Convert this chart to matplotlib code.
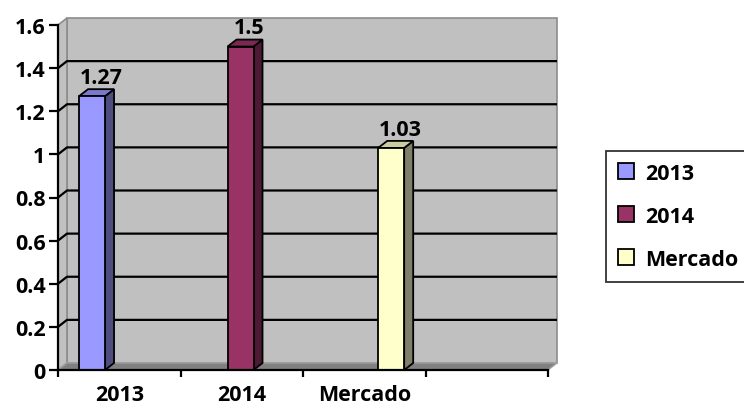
import matplotlib
matplotlib.use("Agg")
import matplotlib.pyplot as plt
from matplotlib.patches import Rectangle, Polygon, Patch

categories = ["2013", "2014", "Mercado"]
values = [1.27, 1.5, 1.03]
yticks = [0, 0.2, 0.4, 0.6, 0.8, 1, 1.2, 1.4, 1.6]
ytick_labels = ["0", "0.2", "0.4", "0.6", "0.8", "1", "1.2", "1.4", "1.6"]

front_cols = ["#9999FF", "#993366", "#FFFFCC"]
side_cols = ["#4D4D80", "#4D1A33", "#80806A"]
top_cols = ["#7A7ACC", "#7A2952", "#CCCCA3"]

# style / layout
bar_pos = [0.278, 1.49, 2.72]
label_pos = [0.5, 1.5, 2.5]
bar_w = 0.212
DX, DY = 9 / 122.5, 7 / 215.6
XMAX, YMAX = 4, 1.6

plt.rcParams['font.family'] = ['Open Sans', 'DejaVu Sans']
plt.rcParams['font.weight'] = 'bold'
FS = 15.5

fig = plt.figure(figsize=(7.44, 4.10), dpi=100)
ax = fig.add_axes([58 / 744, 39 / 410, 490 / 744, 345 / 410])
ax.set_xlim(0, XMAX)
ax.set_ylim(0, YMAX)
ax.patch.set_visible(False)

# back wall
ax.add_patch(Rectangle((DX, DY), XMAX, YMAX, facecolor="#C0C0C0",
                       edgecolor="#8C8C8C", lw=1.2, zorder=0, clip_on=False))
# left wall
ax.add_patch(Polygon([(0, 0), (DX, DY), (DX, YMAX + DY), (0, YMAX)], closed=True,
                     facecolor="#C0C0C0", edgecolor="#8C8C8C", lw=1.2, zorder=0.5,
                     clip_on=False))
# floor
ax.add_patch(Polygon([(0, 0), (XMAX, 0), (XMAX + DX, DY), (DX, DY)], closed=True,
                     facecolor="#808080", edgecolor="#A0A0A0", lw=1.0, zorder=0.5,
                     clip_on=False))

# gridlines
for y in yticks[1:-1]:
    ax.plot([0, DX, XMAX + DX], [y, y + DY, y + DY], color="black", lw=1.6,
            zorder=1, clip_on=False, solid_capstyle="butt")

# bars
for x, v, fc, sc, tc in zip(bar_pos, values, front_cols, side_cols, top_cols):
    x0 = x - bar_w / 2
    x1 = x + bar_w / 2
    ax.add_patch(Polygon([(x1, 0), (x1 + DX, DY), (x1 + DX, v + DY), (x1, v)],
                         closed=True, facecolor=sc, edgecolor="black", lw=1.3,
                         zorder=3, clip_on=False))
    ax.add_patch(Polygon([(x0, v), (x1, v), (x1 + DX, v + DY), (x0 + DX, v + DY)],
                         closed=True, facecolor=tc, edgecolor="black", lw=1.3,
                         zorder=3, clip_on=False))
    ax.add_patch(Rectangle((x0, 0), bar_w, v, facecolor=fc, edgecolor="black",
                           lw=1.3, zorder=4, clip_on=False))
    ax.annotate(f"{v:g}", xy=(x + DX, v + DY), xytext=(0, 1),
                textcoords="offset points", ha="center", va="bottom",
                fontsize=FS, fontweight="bold", zorder=5, annotation_clip=False)

# axes
for s in ["top", "right"]:
    ax.spines[s].set_visible(False)
ax.spines["left"].set_linewidth(1.6)
ax.spines["bottom"].set_linewidth(1.6)
ax.spines["left"].set_zorder(6)
ax.spines["bottom"].set_zorder(6)
ax.set_yticks(yticks)
ax.set_yticklabels(ytick_labels, fontweight="bold")
ax.tick_params(axis="y", direction="out", length=6.5, width=1.6, pad=2.5,
               labelsize=FS)
ax.set_xticks(range(XMAX + 1))
ax.set_xticklabels([])
ax.tick_params(axis="x", which="major", direction="out", length=5, width=1.6)
ax.set_xticks(label_pos, minor=True)
ax.set_xticklabels(categories, minor=True, fontsize=FS, fontweight="bold")
ax.tick_params(axis="x", which="minor", length=0, pad=10)

handles = [Patch(facecolor=c, edgecolor="black", lw=1.3) for c in front_cols]
leg = fig.legend(handles, categories, loc="upper left",
                 bbox_to_anchor=(606 / 744, 0, 160 / 744, 1 - 152 / 410),
                 mode="expand", frameon=True, fancybox=False,
                 edgecolor="black", handlelength=0.75, handleheight=0.75,
                 handletextpad=0.5, labelspacing=1.02, borderpad=0.55,
                 borderaxespad=0, prop={"family": "Open Sans", "weight": "bold", "size": FS})
leg.get_frame().set_linewidth(1.3)

fig.savefig("out.png", dpi=100)
